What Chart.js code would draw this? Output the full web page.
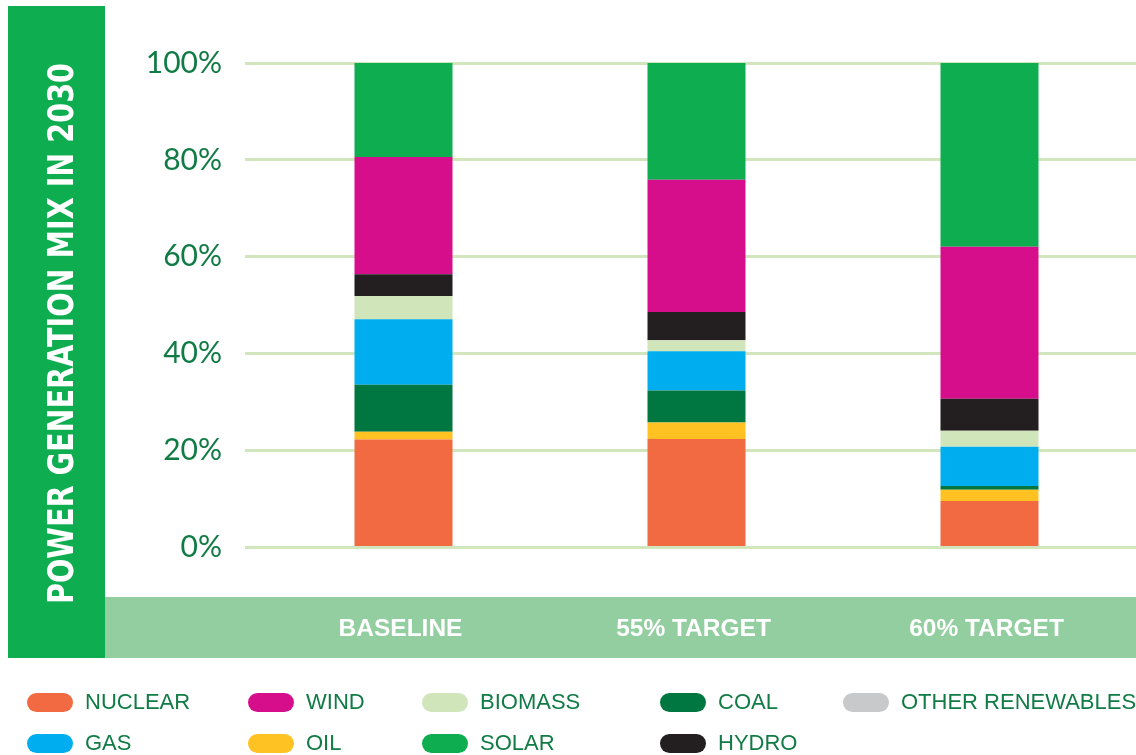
<!DOCTYPE html>
<html>
<head>
<meta charset="utf-8">
<script src="https://cdn.jsdelivr.net/npm/chart.js@4.4.1/dist/chart.umd.min.js"></script>
<style>
  html, body { margin: 0; padding: 0; background: #ffffff; overflow: hidden; }
  #wrap { position: relative; width: 1136px; height: 755px; }
  #c { position: absolute; left: 0; top: 0; }
  #legend { position: absolute; left: 27px; top: 692px; display: grid;
    grid-template-columns: 221px 174px 238px 183px 260px; grid-auto-rows: 41px; }
  .item { display: flex; align-items: center; height: 20px; white-space: nowrap; }
  .pill { width: 46px; height: 19px; border-radius: 10px; margin-right: 12px; flex: none; }
  .lbl { font-family: "Liberation Sans", Arial, sans-serif; font-size: 22px; color: #117B45; line-height: 20px; }
</style>
</head>
<body>
<div id="wrap">
  <canvas id="c" width="1136" height="755"></canvas>
  <div id="legend"></div>
</div>
<script>
// ---- data ----
const categories = ["BASELINE", "55% TARGET", "60% TARGET"];
const nuclear  = [22.3, 22.4, 9.6];
const oil      = [1.6, 3.4, 2.3];
const coal     = [9.7, 6.6, 0.8];
const gas      = [13.5, 8.1, 8.1];
const biomass  = [4.8, 2.3, 3.3];
const hydro    = [4.5, 5.8, 6.6];
const wind     = [24.2, 27.3, 31.4];
const solar    = [19.4, 24.1, 37.9];
const otherRenewables = [0, 0, 0];
const yTicks = [0, 20, 40, 60, 80, 100];
const axisTitle = "POWER GENERATION MIX IN 2030";

// ---- styles ----
const colors = {
  NUCLEAR: "#F26A41", OIL: "#FFC222", COAL: "#007640", GAS: "#00AEEF",
  BIOMASS: "#D0E5BA", HYDRO: "#231F20", WIND: "#D70E8C", SOLAR: "#0DAD50",
  "OTHER RENEWABLES": "#C8C9CB"
};
const textGreen = "#117B45";

const seriesList = [
  ["NUCLEAR", nuclear], ["OIL", oil], ["COAL", coal], ["GAS", gas],
  ["BIOMASS", biomass], ["HYDRO", hydro], ["WIND", wind], ["SOLAR", solar],
  ["OTHER RENEWABLES", otherRenewables]
];
const legendOrder = ["NUCLEAR", "WIND", "BIOMASS", "COAL", "OTHER RENEWABLES",
                     "GAS", "OIL", "SOLAR", "HYDRO"];

const datasets = seriesList.map(([name, vals]) => ({
  label: name, data: vals, backgroundColor: colors[name], borderWidth: 0,
  barPercentage: 0.3345, categoryPercentage: 1.0
}));

const decorPlugin = {
  id: "decor",
  beforeDraw(chart) {
    const ctx = chart.ctx;
    ctx.save();
    // left title box
    ctx.fillStyle = "#0DAD50";
    ctx.fillRect(8, 6, 97, 652);
    // bottom category band
    ctx.fillStyle = "#92CE9F";
    ctx.fillRect(105, 597, 1031, 61);
    // rotated title
    ctx.translate(72.5, 333.5);
    ctx.rotate(-Math.PI / 2);
    ctx.font = 'bold 36px "DejaVu Sans", sans-serif';
    const w = ctx.measureText(axisTitle).width;
    ctx.scale(541 / w, 1);
    ctx.fillStyle = "#ffffff";
    ctx.textAlign = "center";
    ctx.textBaseline = "alphabetic";
    ctx.fillText(axisTitle, 0, 0);
    ctx.restore();
  }
};

new Chart(document.getElementById("c"), {
  type: "bar",
  data: { labels: categories, datasets },
  options: {
    responsive: false,
    animation: false,
    devicePixelRatio: 1,
    layout: { padding: { left: 8, top: 63, right: 0, bottom: 0 } },
    plugins: { legend: { display: false }, tooltip: { enabled: false } },
    scales: {
      x: {
        stacked: true,
        grid: { display: false },
        border: { display: false },
        ticks: {
          color: "#ffffff",
          font: { family: '"Liberation Sans", Arial, sans-serif', size: 24.5, weight: "bold" },
          padding: 59,
          labelOffset: -3
        },
        afterFit(s) { s.height = 207.5; }
      },
      y: {
        stacked: true,
        min: 0, max: 100,
        afterBuildTicks(s) { s.ticks = yTicks.map(v => ({ value: v })); },
        ticks: {
          color: textGreen,
          font: { family: "Lato, sans-serif", size: 30 },
          padding: 23,
          callback: v => v + "%"
        },
        grid: { color: "#D2E6BD", lineWidth: 3, tickLength: 12, drawTicks: true },
        border: { display: false },
        afterFit(s) { s.width = 249; }
      }
    }
  },
  plugins: [decorPlugin]
});

// HTML legend
const legendEl = document.getElementById("legend");
legendOrder.forEach(name => {
  const it = document.createElement("div");
  it.className = "item";
  const p = document.createElement("span");
  p.className = "pill";
  p.style.background = colors[name];
  const t = document.createElement("span");
  t.className = "lbl";
  t.textContent = name;
  it.appendChild(p); it.appendChild(t);
  legendEl.appendChild(it);
});
</script>
</body>
</html>
